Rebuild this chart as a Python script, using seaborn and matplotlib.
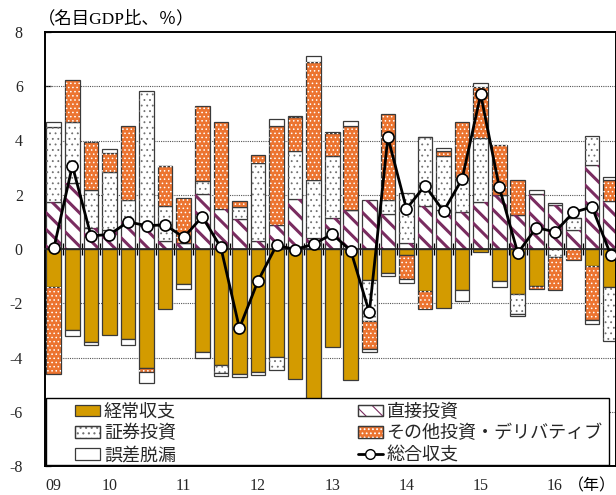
import numpy as np
import matplotlib
matplotlib.use("Agg")
import matplotlib.pyplot as plt
import seaborn as sns
from matplotlib.patches import Patch, Rectangle
from matplotlib.lines import Line2D

# quarterly values, % of nominal GDP
current = [-1.39, -2.99, -3.43, -3.16, -3.30, -4.39, -2.23, -1.28, -3.81, -4.29, -4.61,
           -4.53, -3.99, -4.80, -6.90, -3.62, -4.82, -1.16, -0.89, -0.21, -1.56, -2.18,
           -1.50, -0.12, -1.19, -1.65, -1.38, 0.00, 0.00, -0.62, -1.40]
direct = [1.72, 2.44, 0.77, 0.69, 1.00, 0.84, 0.28, 0.22, 2.04, 1.48, 1.12,
          0.28, 0.90, 1.86, 0.41, 1.14, 1.43, 1.82, 1.30, 0.23, 1.57, 1.45,
          1.35, 1.73, 1.98, 1.27, 2.04, 1.64, 0.71, 3.08, 1.76]
portfolio = [2.78, 2.23, 1.42, 2.15, 0.82, 4.98, 1.32, 0.00, 0.47, -0.28, 0.43,
             2.89, -0.48, 1.74, 2.15, 2.28, 0.00, -1.49, 0.52, 1.84, 2.56, 1.99,
             1.25, 2.37, 0.00, -0.74, 0.00, -0.30, 0.43, 1.08, -2.00]
other = [-3.22, 1.57, 1.76, 0.70, 2.73, -0.16, 1.47, 1.66, 2.75, 3.22, 0.21,
         0.31, 3.63, 1.27, 4.33, 0.84, 3.10, -1.05, 3.14, -0.90, -0.65, 0.16,
         2.07, 1.87, 1.86, 1.26, -0.10, -1.20, -0.42, -1.99, 0.77]
errors = [0.17, -0.22, -0.11, 0.15, -0.25, -0.39, 0.00, -0.18, -0.20, -0.11, -0.10,
          -0.11, 0.27, 0.05, 0.22, 0.05, 0.19, -0.10, -0.12, -0.15, 0.00, 0.12,
          -0.41, 0.16, -0.22, -0.07, 0.12, 0.05, 0.00, -0.16, 0.11]
total = [0.02, 3.07, 0.49, 0.53, 1.00, 0.86, 0.89, 0.43, 1.19, 0.06, -2.92,
         -1.18, 0.14, -0.02, 0.18, 0.55, -0.06, -2.34, 4.12, 1.48, 2.34, 1.39,
         2.58, 5.70, 2.28, -0.15, 0.79, 0.63, 1.35, 1.55, -0.21]

year_pos = [0, 3, 7, 11, 15, 19, 23, 27]
year_labels = ["09", "10", "11", "12", "13", "14", "15", "16"]

names = ["経常収支", "直接投資", "証券投資", "その他投資・デリバティブ", "誤差脱漏", "総合収支"]

sns.set_theme(style="white")
plt.rcParams["font.family"] = ["Liberation Serif", "Noto Sans CJK JP"]
plt.rcParams["hatch.linewidth"] = 0.8

fig = plt.figure(figsize=(6.16, 4.95), dpi=100)
ax = fig.add_axes([45 / 616, 29 / 495, 571 / 616, 434 / 495])

x = np.arange(len(current))
w = 0.79
edge = "#3a3a3a"

# (values, face colour, hatch, hatch colour, hatch linewidth)
styles = [
    (current, "#D39B00", None, None, None),
    (direct, "white", "\\\\", "#7A2C60", 2.2),
    (portfolio, "white", "...", "#707070", 0.6),
    (other, "#EC7430", "....", "white", 0.6),
    (errors, "white", None, None, None),
]

pos_base = np.zeros(len(x))
neg_base = np.zeros(len(x))
handles = []
for vals, face, hatch, hcol, hlw in styles:
    v = np.array(vals)
    bottom = np.where(v >= 0, pos_base, neg_base)
    ax.bar(x, v, bottom=bottom, width=w, color=face, edgecolor=edge, linewidth=0.9, zorder=2)
    h = [Patch(facecolor=face, edgecolor=edge, linewidth=0.9)]
    if hatch:
        over = ax.bar(x, v, bottom=bottom, width=w, facecolor="none", edgecolor=hcol,
                      linewidth=0, hatch=hatch, zorder=2.1)
        hp = Patch(facecolor="none", edgecolor=hcol, linewidth=0, hatch=hatch)
        for p in list(over) + [hp]:
            if hasattr(p, "set_hatch_linewidth"):
                p.set_hatch_linewidth(hlw)
        h.append(hp)
        h.append(Patch(facecolor="none", edgecolor=edge, linewidth=0.9))
    handles.append(tuple(h))
    pos_base = pos_base + np.where(v >= 0, v, 0)
    neg_base = neg_base + np.where(v < 0, v, 0)

sns.lineplot(x=x, y=total, ax=ax, color="black", linewidth=2, marker="o", markersize=8,
             markerfacecolor="white", markeredgecolor="black", markeredgewidth=1.2, zorder=3)

# zero line with quarter ticks
sec = ax.secondary_xaxis(0.5)
sec.set_xticks(np.arange(-0.5, len(x), 1))
sec.tick_params(direction="inout", length=9, width=0.9, color="black", labelbottom=False, labeltop=False)
sec.spines["bottom"].set_linewidth(1.3)
sec.set_zorder(2.5)

ax.set_xlim(-0.474, 30.29)
ax.set_ylim(-8, 8)
ax.set_yticks(range(-8, 9, 2))
ax.set_yticklabels([str(t) for t in range(-8, 9, 2)], fontsize=11.5)
ax.set_xticks(year_pos)
ax.set_xticklabels(year_labels, fontsize=11.5)
ax.tick_params(axis="x", length=0, pad=9)
ax.tick_params(axis="y", direction="in", length=4, width=0.9, color="black", pad=16, left=True)
for g in [-6, -4, -2, 2, 4, 6]:
    ax.axhline(g, color="#555555", linewidth=0.8, linestyle=(0, (1, 1)), zorder=1)
for s in ax.spines.values():
    s.set_color("black")
    s.set_linewidth(1.4)

ax.text(-0.012, 1.01, "（名目GDP比、％）", transform=ax.transAxes, fontsize=12.5,
        ha="left", va="bottom", color="black")
ax.text(1.0, -0.028, "（年）", transform=ax.transAxes, fontsize=11.5,
        ha="right", va="top", color="black")

# legend
ax.add_patch(Rectangle((0.002, 0.003), 0.986, 0.154, transform=ax.transAxes,
                       facecolor="white", edgecolor="black", linewidth=1.0, zorder=4.5))
line_h = Line2D([], [], color="black", linewidth=2, marker="o", markersize=7,
                markerfacecolor="white", markeredgecolor="black")
order = [handles[0], handles[2], handles[4], handles[1], handles[3], line_h]
labels = [names[0], names[2], names[4], names[1], names[3], names[5]]
leg = ax.legend(order, labels, ncol=2, loc="upper left", bbox_to_anchor=(0.037, 0.166),
                frameon=False, handlelength=1.4, handleheight=0.6,
                handletextpad=0.2, labelspacing=0.2, columnspacing=10.05, borderpad=0,
                prop={"family": ["Noto Sans CJK JP"], "size": 13})
leg.set_zorder(5)

fig.savefig("out.png", dpi=100)
